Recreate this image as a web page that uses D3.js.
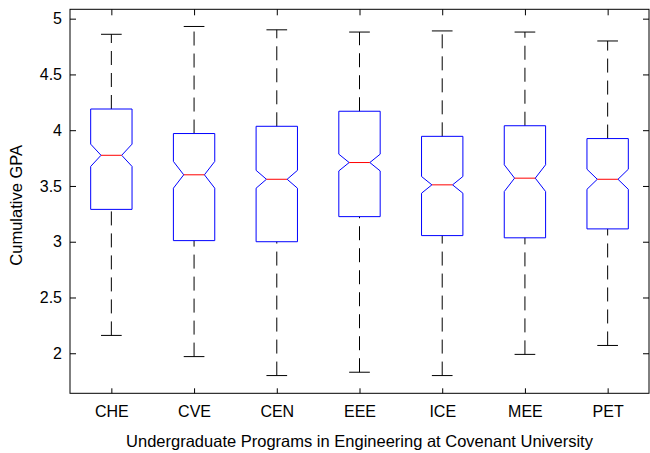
<!DOCTYPE html>
<html>
<head>
<meta charset="utf-8">
<script src="https://cdn.jsdelivr.net/npm/d3@7"></script>
<style>
  html, body { margin: 0; padding: 0; background: #fff; }
  svg { display: block; font-family: "Liberation Sans", Arial, Helvetica, sans-serif; }
</style>
</head>
<body>
<svg id="chart" width="650" height="453"></svg>
<script>
const categories   = ["CHE", "CVE", "CEN", "EEE", "ICE", "MEE", "PET"];
const upperWhisker = [4.86, 4.93, 4.90, 4.88, 4.89, 4.88, 4.80];
const q3Values     = [4.19, 3.97, 4.035, 4.17, 3.945, 4.04, 3.925];
const medians      = [3.775, 3.60, 3.56, 3.71, 3.51, 3.57, 3.56];
const q1Values     = [3.29, 3.01, 3.00, 3.225, 3.055, 3.035, 3.115];
const lowerWhisker = [2.16, 1.97, 1.80, 1.83, 1.80, 1.99, 2.07];
const notchHalf    = [0.10, 0.12, 0.08, 0.075, 0.075, 0.12, 0.09];
const yTicks       = [2, 2.5, 3, 3.5, 4, 4.5, 5];
const yTickLabels  = ["2", "2.5", "3", "3.5", "4", "4.5", "5"];
const yDomain      = [1.641, 5.084];
const xTitle = "Undergraduate Programs in Engineering at Covenant University";
const yTitle = "Cumulative GPA";

const svg = d3.select("#chart");
const L = 70, R = 649, T = 9.3, B = 393.3;

const x = d3.scalePoint().domain(categories).range([L, R]).padding(0.5);
const y = d3.scaleLinear().domain(yDomain).range([B, T]);
const step = x.step();
const boxW = step * 0.5;
const capW = step * 0.25;

const data = categories.map((c, i) => ({
  c, hi: upperWhisker[i], q3: q3Values[i], med: medians[i], q1: q1Values[i],
  lo: lowerWhisker[i], nh: notchHalf[i]
}));

const fontSize = "16px";
const titleSize = "16.5px";

// axes (inward ticks)
const yFmt = d => yTickLabels[yTicks.indexOf(d)];
const gl = svg.append("g").attr("transform", `translate(${L},0)`)
  .call(d3.axisLeft(y).tickValues(yTicks).tickFormat(yFmt).tickSize(-6).tickPadding(8));
const gr = svg.append("g").attr("transform", `translate(${R},0)`)
  .call(d3.axisRight(y).tickValues(yTicks).tickFormat("").tickSize(-6));
const gb = svg.append("g").attr("transform", `translate(0,${B})`)
  .call(d3.axisBottom(x).tickSize(-5).tickPadding(12));
const gt = svg.append("g").attr("transform", `translate(0,${T})`)
  .call(d3.axisTop(x).tickFormat("").tickSize(-6));
[gl, gr, gb, gt].forEach(g => {
  g.select(".domain").remove();
  g.selectAll(".tick line").attr("stroke", "#000");
  g.selectAll("text").attr("fill", "#000").style("font-size", fontSize)
   .style("font-family", "'Liberation Sans', Arial, sans-serif");
});

svg.append("rect").attr("x", L).attr("y", T).attr("width", R - L).attr("height", B - T)
  .attr("fill", "none").attr("stroke", "#000").attr("stroke-width", 1);

const g = svg.append("g");
const bx = g.selectAll("g.box").data(data).join("g").attr("class", "box");

// whiskers (drawn upward in value)
bx.append("line")
  .attr("x1", d => x(d.c)).attr("x2", d => x(d.c))
  .attr("y1", d => y(d.q3)).attr("y2", d => y(d.hi))
  .attr("stroke", "#000").attr("stroke-dasharray", "14,8");
bx.append("line")
  .attr("x1", d => x(d.c)).attr("x2", d => x(d.c))
  .attr("y1", d => y(d.lo)).attr("y2", d => y(d.q1))
  .attr("stroke", "#000").attr("stroke-dasharray", "14,8");
// caps
bx.append("line")
  .attr("x1", d => x(d.c) - capW / 2).attr("x2", d => x(d.c) + capW / 2)
  .attr("y1", d => y(d.hi)).attr("y2", d => y(d.hi))
  .attr("stroke", "#000");
bx.append("line")
  .attr("x1", d => x(d.c) - capW / 2).attr("x2", d => x(d.c) + capW / 2)
  .attr("y1", d => y(d.lo)).attr("y2", d => y(d.lo))
  .attr("stroke", "#000");

// notched boxes
bx.append("path")
  .attr("d", d => {
    const l = x(d.c) - boxW / 2, r = x(d.c) + boxW / 2, ind = boxW / 4;
    const p = d3.path();
    p.moveTo(l, y(d.q1));
    p.lineTo(l, y(d.med - d.nh));
    p.lineTo(l + ind, y(d.med));
    p.lineTo(l, y(d.med + d.nh));
    p.lineTo(l, y(d.q3));
    p.lineTo(r, y(d.q3));
    p.lineTo(r, y(d.med + d.nh));
    p.lineTo(r - ind, y(d.med));
    p.lineTo(r, y(d.med - d.nh));
    p.lineTo(r, y(d.q1));
    p.closePath();
    return p.toString();
  })
  .attr("fill", "none").attr("stroke", "#0000ff").attr("stroke-width", 1);

// medians
bx.append("line")
  .attr("x1", d => x(d.c) - boxW / 4).attr("x2", d => x(d.c) + boxW / 4)
  .attr("y1", d => y(d.med)).attr("y2", d => y(d.med))
  .attr("stroke", "#ff0000");

// titles
svg.append("text").attr("x", (L + R) / 2).attr("y", 447)
  .attr("text-anchor", "middle").style("font-size", titleSize).text(xTitle);
svg.append("text").attr("transform", `translate(22,${(T + B) / 2 + 4}) rotate(-90)`)
  .attr("text-anchor", "middle").style("font-size", titleSize).text(yTitle);
</script>
</body>
</html>
